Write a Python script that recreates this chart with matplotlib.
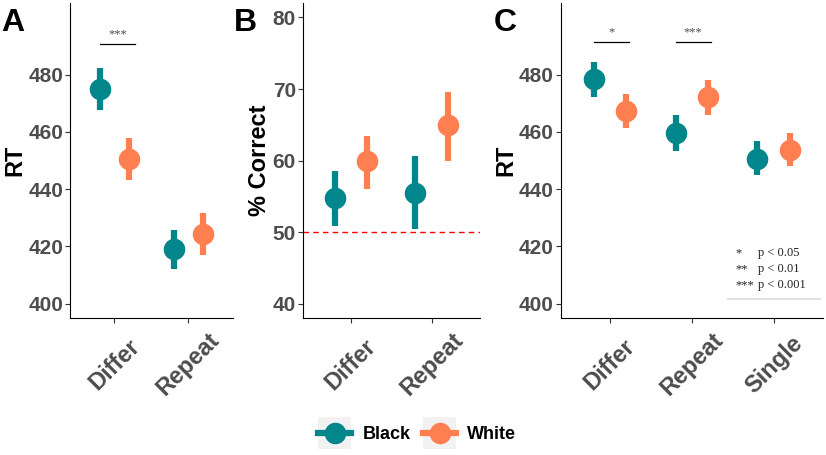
import matplotlib
matplotlib.use('Agg')
import matplotlib.pyplot as plt
from matplotlib.lines import Line2D
from matplotlib.patches import Rectangle
from matplotlib.legend_handler import HandlerLine2D

plt.rcParams['font.family'] = ['Liberation Sans', 'DejaVu Sans']

# colours for the two groups
teal = '#00868B'
coral = '#FF7F50'
gray_txt = '#4D4D4D'

# panel A: RT by condition
a_cats = ['Differ', 'Repeat']
a_black = [474.9, 419.2]
a_black_lo = [467.7, 412.2]
a_black_hi = [482.2, 425.9]
a_white = [450.6, 424.4]
a_white_lo = [443.3, 417.2]
a_white_hi = [458.0, 431.7]

# panel B: % correct
b_cats = ['Differ', 'Repeat']
b_black = [54.8, 55.5]
b_black_lo = [50.9, 50.5]
b_black_hi = [58.5, 60.6]
b_white = [59.9, 65.0]
b_white_lo = [56.1, 60.0]
b_white_hi = [63.5, 69.6]

# panel C: RT with single condition
c_cats = ['Differ', 'Repeat', 'Single']
c_black = [478.4, 459.6, 450.7]
c_black_lo = [472.3, 453.5, 444.8]
c_black_hi = [484.5, 465.8, 456.7]
c_white = [467.3, 472.1, 453.8]
c_white_lo = [461.4, 466.0, 448.0]
c_white_hi = [473.4, 478.2, 459.6]

fig = plt.figure(figsize=(8.26, 4.55), dpi=100)

def pointrange(ax, cats, vals, lo, hi, color, shift):
    xs = [i + 1 + shift for i in range(len(cats))]
    for x, v, l, h in zip(xs, vals, lo, hi):
        ax.plot([x, x], [l, h], color=color, lw=4.5, solid_capstyle='butt', zorder=2)
    ax.plot(xs, vals, 'o', color=color, ms=14.5, zorder=3)

def style(ax, cats, ylabel, yticks, ylim):
    ax.set_xlim(0.4, len(cats) + 0.6)
    ax.set_ylim(*ylim)
    ax.set_xticks(range(1, len(cats) + 1))
    # labels centred under the tick, like ggplot's angle=45 text
    ax.set_xticklabels(cats, rotation=45, ha='center', va='center',
                       fontsize=17, fontweight='bold', color=gray_txt)
    ax.set_yticks(yticks)
    ax.set_yticklabels([str(t) for t in yticks], fontsize=15, fontweight='bold', color=gray_txt)
    ax.set_ylabel(ylabel, fontsize=17, fontweight='bold', labelpad=1)
    ax.spines['top'].set_visible(False)
    ax.spines['right'].set_visible(False)
    ax.tick_params(length=3.5, width=0.8, color='#333333')
    ax.tick_params(axis='y', pad=1.5)
    ax.tick_params(axis='x', pad=30)

def sig(ax, x0, x1, y, label):
    ax.plot([x0, x1], [y, y], color='black', lw=0.9)
    ax.text((x0 + x1) / 2, y + 1.5, label, ha='center', va='bottom', fontsize=9,
            color=gray_txt, family='Liberation Serif')

# A
axA = fig.add_axes([0.0847, 0.301, 0.1973, 0.692])
pointrange(axA, a_cats, a_black, a_black_lo, a_black_hi, teal, -0.2)
pointrange(axA, a_cats, a_white, a_white_lo, a_white_hi, coral, 0.2)
style(axA, a_cats, 'RT', [400, 420, 440, 460, 480], (395, 505))
sig(axA, 0.8, 1.28, 490.6, '***')

# B
axB = fig.add_axes([0.3665, 0.301, 0.2145, 0.692])
axB.axhline(50, color='red', ls=(0, (4, 3)), lw=1.0, zorder=1)
pointrange(axB, b_cats, b_black, b_black_lo, b_black_hi, teal, -0.2)
pointrange(axB, b_cats, b_white, b_white_lo, b_white_hi, coral, 0.2)
style(axB, b_cats, '% Correct', [40, 50, 60, 70, 80], (38, 82))

# C
axC = fig.add_axes([0.679, 0.301, 0.3174, 0.692])
pointrange(axC, c_cats, c_black, c_black_lo, c_black_hi, teal, -0.2)
pointrange(axC, c_cats, c_white, c_white_lo, c_white_hi, coral, 0.2)
style(axC, c_cats, 'RT', [400, 420, 440, 460, 480], (395, 505))
sig(axC, 0.8, 1.23, 491.3, '*')
sig(axC, 1.8, 2.23, 491.3, '***')

# p-value key
for i, (s, p) in enumerate([('*', 'p < 0.05'), ('**', 'p < 0.01'), ('***', 'p < 0.001')]):
    y = 253 + i * 16
    fig.text(735 / 826, 1 - y / 455, s, fontsize=9, family='Liberation Serif', va='center', color='#222222')
    fig.text(758 / 826, 1 - y / 455, p, fontsize=9, family='Liberation Serif', va='center', color='#222222')
fig.add_artist(Line2D([728 / 826, 820 / 826], [1 - 299 / 455, 1 - 299 / 455], color='#D9D9D9', lw=1.2))

# panel letters
for x, l in [(0.002, 'A'), (0.283, 'B'), (0.598, 'C')]:
    fig.text(x, 0.982, l, fontsize=23, fontweight='bold', va='top', ha='left')

# legend with gray key boxes
class KeyHandler(HandlerLine2D):
    def create_artists(self, legend, orig_handle, xdescent, ydescent, width, height, fontsize, trans):
        bg = Rectangle((-xdescent, -ydescent - 7), width, height + 14, facecolor='#F2F2F2',
                       edgecolor='none', transform=trans)
        arts = HandlerLine2D.create_artists(self, legend, orig_handle, xdescent, ydescent,
                                            width, height, fontsize, trans)
        return [bg] + arts

handles = [Line2D([], [], color=teal, lw=4.5, marker='o', ms=14.5),
           Line2D([], [], color=coral, lw=4.5, marker='o', ms=14.5)]
fig.legend(handles, ['Black', 'White'], loc='center', bbox_to_anchor=(0.505, 0.045), ncol=2,
           frameon=False, handlelength=1.85, handletextpad=0.6, columnspacing=0.7,
           prop={'weight': 'bold', 'size': 13},
           handler_map={h: KeyHandler() for h in handles})

fig.savefig('out.png', dpi=100)
